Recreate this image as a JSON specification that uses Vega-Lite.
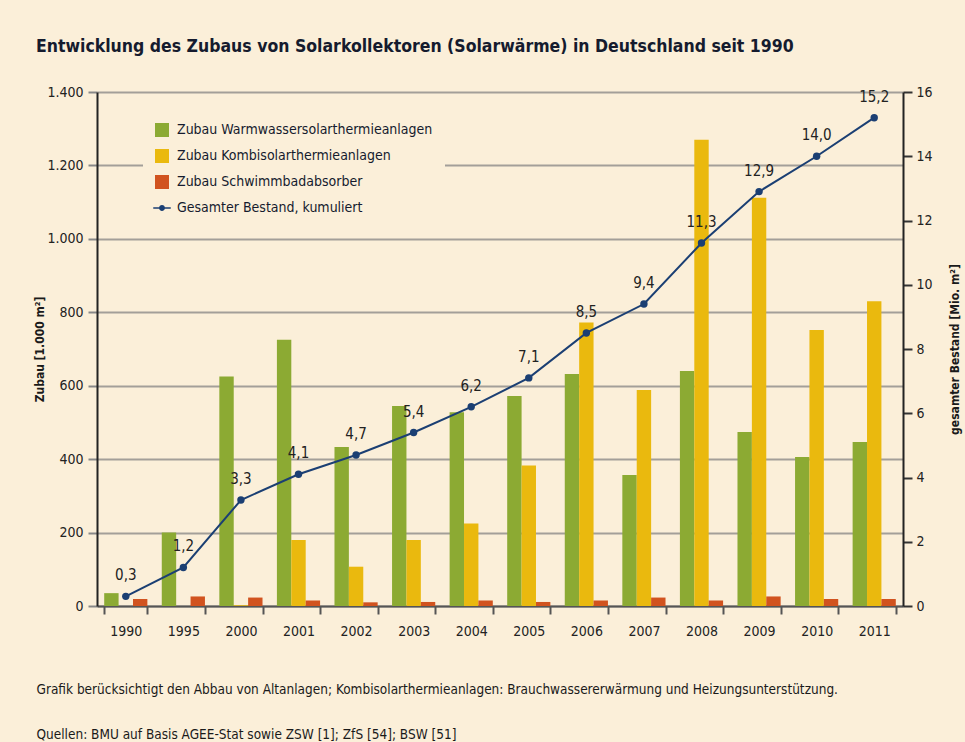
{
  "$schema": "https://vega.github.io/schema/vega-lite/v6.json",
  "width": 806,
  "height": 514,
  "autosize": "none",
  "padding": {"left": 97, "top": 92, "right": 62, "bottom": 136},
  "background": "#FBEFD9",
  "title": {
    "text": "Entwicklung des Zubaus von Solarkollektoren (Solarwärme) in Deutschland seit 1990",
    "anchor": "start",
    "frame": "group",
    "dx": -61,
    "offset": 16,
    "baseline": "alphabetic",
    "font": "DejaVu Sans Condensed, sans-serif",
    "fontSize": 17.5,
    "fontWeight": "bold",
    "color": "#151b2e"
  },
  "config": {
    "locale": {"number": {"decimal": ",", "thousands": ".", "grouping": [3], "currency": ["", " €"]}},
    "view": {"stroke": null},
    "font": "DejaVu Sans Condensed, sans-serif"
  },
  "datasets": {
    "zubau": [
      {"year": "1990", "series": "Zubau Warmwassersolarthermieanlagen", "value": 35},
      {"year": "1990", "series": "Zubau Kombisolarthermieanlagen", "value": 0},
      {"year": "1990", "series": "Zubau Schwimmbadabsorber", "value": 19},
      {"year": "1995", "series": "Zubau Warmwassersolarthermieanlagen", "value": 200},
      {"year": "1995", "series": "Zubau Kombisolarthermieanlagen", "value": 0},
      {"year": "1995", "series": "Zubau Schwimmbadabsorber", "value": 26},
      {"year": "2000", "series": "Zubau Warmwassersolarthermieanlagen", "value": 625},
      {"year": "2000", "series": "Zubau Kombisolarthermieanlagen", "value": 2},
      {"year": "2000", "series": "Zubau Schwimmbadabsorber", "value": 23},
      {"year": "2001", "series": "Zubau Warmwassersolarthermieanlagen", "value": 725},
      {"year": "2001", "series": "Zubau Kombisolarthermieanlagen", "value": 180},
      {"year": "2001", "series": "Zubau Schwimmbadabsorber", "value": 15},
      {"year": "2002", "series": "Zubau Warmwassersolarthermieanlagen", "value": 433},
      {"year": "2002", "series": "Zubau Kombisolarthermieanlagen", "value": 107},
      {"year": "2002", "series": "Zubau Schwimmbadabsorber", "value": 10},
      {"year": "2003", "series": "Zubau Warmwassersolarthermieanlagen", "value": 545},
      {"year": "2003", "series": "Zubau Kombisolarthermieanlagen", "value": 180},
      {"year": "2003", "series": "Zubau Schwimmbadabsorber", "value": 11},
      {"year": "2004", "series": "Zubau Warmwassersolarthermieanlagen", "value": 528},
      {"year": "2004", "series": "Zubau Kombisolarthermieanlagen", "value": 225},
      {"year": "2004", "series": "Zubau Schwimmbadabsorber", "value": 15},
      {"year": "2005", "series": "Zubau Warmwassersolarthermieanlagen", "value": 572},
      {"year": "2005", "series": "Zubau Kombisolarthermieanlagen", "value": 383},
      {"year": "2005", "series": "Zubau Schwimmbadabsorber", "value": 11},
      {"year": "2006", "series": "Zubau Warmwassersolarthermieanlagen", "value": 632},
      {"year": "2006", "series": "Zubau Kombisolarthermieanlagen", "value": 772},
      {"year": "2006", "series": "Zubau Schwimmbadabsorber", "value": 15},
      {"year": "2007", "series": "Zubau Warmwassersolarthermieanlagen", "value": 357},
      {"year": "2007", "series": "Zubau Kombisolarthermieanlagen", "value": 588},
      {"year": "2007", "series": "Zubau Schwimmbadabsorber", "value": 23},
      {"year": "2008", "series": "Zubau Warmwassersolarthermieanlagen", "value": 640},
      {"year": "2008", "series": "Zubau Kombisolarthermieanlagen", "value": 1270},
      {"year": "2008", "series": "Zubau Schwimmbadabsorber", "value": 15},
      {"year": "2009", "series": "Zubau Warmwassersolarthermieanlagen", "value": 474},
      {"year": "2009", "series": "Zubau Kombisolarthermieanlagen", "value": 1112},
      {"year": "2009", "series": "Zubau Schwimmbadabsorber", "value": 26},
      {"year": "2010", "series": "Zubau Warmwassersolarthermieanlagen", "value": 406},
      {"year": "2010", "series": "Zubau Kombisolarthermieanlagen", "value": 752},
      {"year": "2010", "series": "Zubau Schwimmbadabsorber", "value": 19},
      {"year": "2011", "series": "Zubau Warmwassersolarthermieanlagen", "value": 447},
      {"year": "2011", "series": "Zubau Kombisolarthermieanlagen", "value": 830},
      {"year": "2011", "series": "Zubau Schwimmbadabsorber", "value": 19}
    ],
    "bestand": [
      {"year": "1990", "total": 0.3},
      {"year": "1995", "total": 1.2},
      {"year": "2000", "total": 3.3},
      {"year": "2001", "total": 4.1},
      {"year": "2002", "total": 4.7},
      {"year": "2003", "total": 5.4},
      {"year": "2004", "total": 6.2},
      {"year": "2005", "total": 7.1},
      {"year": "2006", "total": 8.5},
      {"year": "2007", "total": 9.4},
      {"year": "2008", "total": 11.3},
      {"year": "2009", "total": 12.9},
      {"year": "2010", "total": 14.0},
      {"year": "2011", "total": 15.2}
    ]
  },
  "encoding": {
    "x": {
      "field": "year",
      "type": "ordinal",
      "sort": null,
      "scale": {"paddingInner": 0.25, "paddingOuter": 0.125},
      "axis": {
        "title": ["Grafik berücksichtigt den Abbau von Altanlagen; Kombisolarthermieanlagen: Brauchwassererwärmung und Heizungsunterstützung.", "Quellen: BMU auf Basis AGEE-Stat sowie ZSW [1]; ZfS [54]; BSW [51]"],
        "titleAnchor": "start",
        "titleAlign": "left",
        "titleBaseline": "alphabetic",
        "titleX": -61,
        "titleY": 87,
        "titleLineHeight": 45,
        "titleFontSize": 13.5,
        "titleFontWeight": "normal",
        "titleColor": "#1a1a1a",
        "labelAngle": 0,
        "labelFontSize": 14,
        "labelColor": "#222222",
        "labelPadding": 10,
        "tickBand": "extent",
        "tickSize": 8,
        "tickWidth": 2,
        "tickColor": "#555555",
        "domainColor": "#555555",
        "domainWidth": 2,
        "grid": false
      }
    }
  },
  "layer": [
    {
      "data": {"name": "zubau"},
      "mark": {"type": "bar"},
      "encoding": {
        "xOffset": {
          "field": "series",
          "type": "nominal",
          "sort": ["Zubau Warmwassersolarthermieanlagen", "Zubau Kombisolarthermieanlagen", "Zubau Schwimmbadabsorber"],
          "scale": {"paddingInner": 0, "paddingOuter": 0}
        },
        "y": {
          "field": "value",
          "type": "quantitative",
          "scale": {"domain": [0, 1400]},
          "axis": {
            "title": "Zubau [1.000 m²]",
            "titleFontSize": 12,
            "titleFontWeight": "bold",
            "titleColor": "#1a1a1a",
            "titlePadding": 0,
            "values": [0, 200, 400, 600, 800, 1000, 1200, 1400],
            "format": ",d",
            "labelFontSize": 14,
            "labelColor": "#222222",
            "labelPadding": 5,
            "tickSize": 9,
            "tickWidth": 2,
            "tickColor": "#888888",
            "domainColor": "#222222",
            "domainWidth": 2,
            "grid": true,
            "gridColor": "#a39f99",
            "gridWidth": 2
          }
        },
        "color": {
          "field": "series",
          "type": "nominal",
          "scale": {
            "domain": ["Zubau Warmwassersolarthermieanlagen", "Zubau Kombisolarthermieanlagen", "Zubau Schwimmbadabsorber", "Gesamter Bestand, kumuliert"],
            "range": ["#8CAA33", "#EAB90E", "#D1531F", "#1B3F73"]
          },
          "legend": {
            "title": null,
            "orient": "none",
            "legendX": 46,
            "legendY": 19,
            "padding": 12,
            "fillColor": "#FBEFD9",
            "labelFontSize": 14,
            "labelLimit": 400,
            "labelColor": "#151b2e",
            "labelOffset": 8,
            "symbolSize": 196,
            "rowPadding": 12,
            "symbolStrokeWidth": 0,
            "encode": {
              "symbols": {
                "update": {
                  "shape": {"signal": "datum.value == 'Gesamter Bestand, kumuliert' ? 'M-1.25,-0.1L1.25,-0.1L1.25,0.1L-1.25,0.1Z M0.42,0A0.42,0.42 0 1 1 -0.42,0A0.42,0.42 0 1 1 0.42,0Z' : 'square'"},
                  "fill": {"signal": "datum.value == 'Gesamter Bestand, kumuliert' ? '#1B3F73' : datum.value == 'Zubau Warmwassersolarthermieanlagen' ? '#8CAA33' : datum.value == 'Zubau Kombisolarthermieanlagen' ? '#EAB90E' : '#D1531F'"},
                  "opacity": {"value": 1}
                }
              }
            }
          }
        }
      }
    },
    {
      "data": {"name": "bestand"},
      "encoding": {
        "y": {
          "field": "total",
          "type": "quantitative",
          "scale": {"domain": [0, 16]},
          "axis": {
            "orient": "right",
            "title": "gesamter Bestand [Mio. m²]",
            "titleAngle": 270,
            "titleFontSize": 12,
            "titleFontWeight": "bold",
            "titleColor": "#1a1a1a",
            "titlePadding": 29,
            "values": [0, 2, 4, 6, 8, 10, 12, 14, 16],
            "labelFontSize": 14,
            "labelColor": "#222222",
            "labelPadding": 4,
            "tickSize": 9,
            "tickWidth": 2,
            "tickColor": "#333333",
            "domainColor": "#222222",
            "domainWidth": 2,
            "grid": false
          }
        }
      },
      "layer": [
        {"mark": {"type": "line", "color": "#1B3F73", "strokeWidth": 2}, "encoding": {}},
        {"mark": {"type": "point", "filled": true, "color": "#1B3F73", "size": 55, "opacity": 1}, "encoding": {}},
        {
          "mark": {"type": "text", "fontSize": 15, "color": "#222222", "dy": -16, "baseline": "alphabetic"},
          "encoding": {"text": {"field": "total", "type": "quantitative", "format": ".1f"}}
        }
      ]
    }
  ],
  "resolve": {"scale": {"y": "independent"}}
}
